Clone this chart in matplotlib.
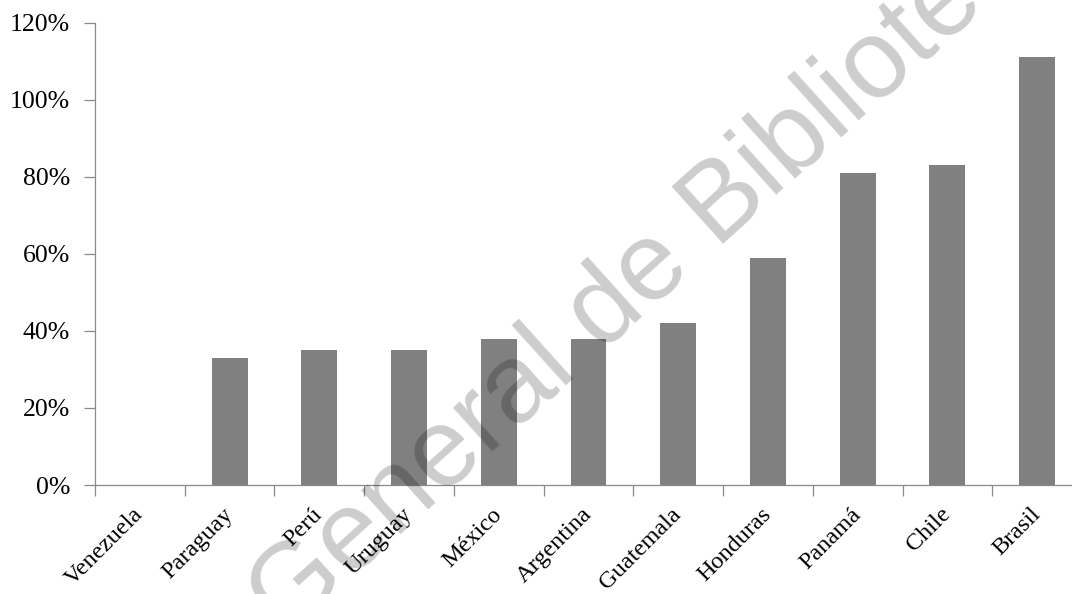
import numpy as np
import matplotlib
matplotlib.use("Agg")
import matplotlib.pyplot as plt
from matplotlib.ticker import FuncFormatter

plt.rcParams["font.family"] = ["Liberation Serif", "DejaVu Serif"]

# data (percent)
countries = ["Venezuela", "Paraguay", "Perú", "Uruguay", "México", "Argentina",
             "Guatemala", "Honduras", "Panamá", "Chile", "Brasil"]
values = [0, 33, 35, 35, 38, 38, 42, 59, 81, 83, 111]
y_ticks = [0, 20, 40, 60, 80, 100, 120]

axis_color = "#898989"

fig = plt.figure(figsize=(10.72, 5.94), dpi=100)
# axes extends a bit past the right edge, like the cropped original
ax = fig.add_axes([95 / 1072, 109 / 594, 987 / 1072, 462.5 / 594])

x = np.arange(len(countries))
ax.bar(x, values, width=0.4, color="#808080", zorder=2)

ax.set_xlim(-0.5, len(countries) - 0.5)
ax.set_ylim(0, 120)

# tick marks between categories, labels on the categories
ax.set_xticks(np.arange(-0.5, len(countries), 1))
ax.set_xticklabels([])
ax.set_xticks(x, minor=True)
ax.set_xticklabels(countries, minor=True, rotation=45, ha="right", va="center",
                   rotation_mode="anchor", fontsize=17.5)
ax.tick_params(axis="x", which="major", direction="out", length=8,
               width=0.9, color=axis_color)
ax.tick_params(axis="x", which="minor", length=0, pad=19)

ax.set_yticks(y_ticks)
ax.yaxis.set_major_formatter(FuncFormatter(lambda v, p: f"{v:.0f}%"))
ax.tick_params(axis="y", direction="out", length=8, width=0.9,
               color=axis_color, labelsize=18.5, pad=10)

for side in ["top", "right"]:
    ax.spines[side].set_visible(False)
for side in ["left", "bottom"]:
    ax.spines[side].set_color(axis_color)
    ax.spines[side].set_linewidth(0.9)

# watermark over the chart (cut off by the figure edges, as in the original)
fig.text(285 / 1072, -44 / 594, "General de Bibliotecas", fontsize=80,
         family="Liberation Sans", color="black", alpha=0.2, rotation=42,
         rotation_mode="anchor", ha="left", va="baseline", zorder=10)

fig.savefig("out.png", dpi=100)
